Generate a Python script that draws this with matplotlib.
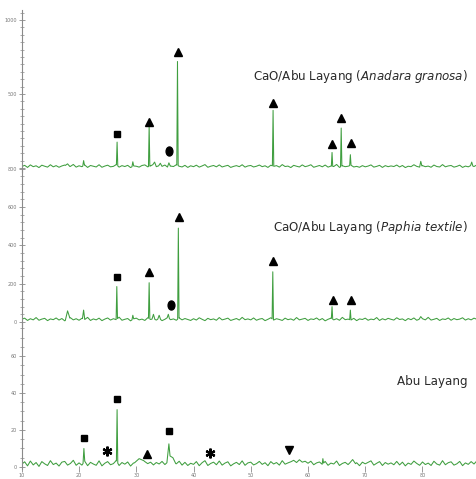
import numpy as np
import matplotlib
matplotlib.use("Agg")
import matplotlib.pyplot as plt
from matplotlib.markers import MarkerStyle
from matplotlib.transforms import Affine2D

# 2-theta grid for the background readings (0.5 deg step)
two_theta = np.arange(10, 90, 0.5)

# background noise (counts)
bg_anadara = [
    10, 18, 4, 21, 9, 15, 3, 19, 12, 6, 22, 8, 16, 5, 14, 20, 7, 11, 24, 6,
    15, 9, 20, 4, 17, 12, 7, 22, 5, 13, 19, 8, 11, 23, 6, 16, 10, 18, 3, 14,
    12, 6, 17, 21, 8, 14, 25, 9, 16, 11, 20, 5, 13, 10, 22, 12, 7, 18, 4, 15,
    9, 19, 6, 14, 23, 5, 12, 17, 8, 21, 7, 13, 18, 4, 11, 16, 9, 22, 6, 14,
    17, 7, 12, 20, 9, 15, 4, 19, 11, 16, 6, 23, 10, 13, 3, 18, 12, 7, 21, 9,
    14, 22, 5, 11, 17, 8, 20, 6, 13, 10, 24, 4, 15, 9, 12, 19, 7, 11, 5, 16,
    8, 13, 21, 6, 11, 18, 4, 16, 9, 14, 10, 20, 7, 17, 3, 12, 9, 22, 11, 6,
    16, 9, 13, 5, 20, 10, 7, 23, 8, 14, 17, 6, 11, 19, 4, 13, 8, 18, 10, 21]
bg_paphia = [
    14, 20, 8, 17, 11, 23, 9, 15, 19, 7, 16, 12, 21, 10, 18, 6, 14, 22, 11, 17,
    9, 19, 13, 24, 8, 16, 11, 20, 7, 15, 21, 10, 17, 12, 25, 9, 14, 18, 6, 16,
    20, 11, 15, 8, 22, 13, 17, 10, 19, 7, 14, 24, 12, 16, 9, 21, 11, 18, 13, 8,
    17, 10, 22, 14, 7, 19, 12, 16, 9, 23, 11, 15, 20, 8, 13, 18, 10, 24, 12, 16,
    11, 21, 9, 15, 18, 7, 14, 22, 10, 17, 13, 8, 20, 12, 16, 9, 23, 11, 15, 19,
    8, 16, 13, 21, 10, 18, 6, 14, 20, 11, 17, 9, 24, 12, 15, 10, 19, 7, 16, 13,
    20, 9, 15, 12, 23, 8, 17, 11, 19, 14, 10, 22, 13, 16, 7, 18, 12, 21, 9, 15,
    17, 11, 24, 10, 14, 19, 8, 16, 13, 21, 9, 18, 12, 15, 22, 10, 17, 11, 20, 14]
bg_abu = [
    1.5, 2.8, 0.6, 3.2, 1.1, 2.4, 0.3, 2.9, 1.7, 0.8, 3.4, 1.3, 2.1, 0.5, 2.6, 3.0, 1.0, 1.9, 3.6, 0.9,
    2.2, 1.0, 3.1, 0.7, 2.5, 1.6, 0.9, 3.3, 0.6, 2.0, 2.9, 1.2, 1.8, 3.5, 0.8, 2.4, 1.5, 2.7, 0.5, 2.1,
    2.5, 3.8, 4.2, 2.9, 1.8, 2.6, 1.1, 2.4, 1.6, 3.0, 1.3, 2.7, 0.9, 2.2, 1.7, 3.1, 1.0, 2.5, 0.8, 2.0,
    1.4, 2.9, 0.7, 2.3, 3.4, 0.8, 1.9, 2.6, 1.2, 3.2, 1.0, 2.1, 2.8, 0.6, 1.7, 2.5, 1.3, 3.3, 0.9, 2.2,
    2.6, 1.1, 1.8, 3.0, 1.4, 2.3, 0.7, 2.9, 1.6, 2.4, 1.0, 3.4, 1.5, 2.2, 2.8, 3.6, 2.4, 3.9, 2.6, 3.1,
    2.0, 3.1, 1.2, 2.2, 2.7, 1.4, 3.0, 0.9, 2.1, 1.6, 3.2, 0.8, 1.9, 2.5, 1.3, 2.8, 1.0, 2.3, 0.7, 2.6,
    1.7, 2.5, 3.3, 1.0, 2.0, 2.9, 0.8, 2.4, 1.5, 2.2, 1.2, 3.0, 1.1, 2.6, 0.6, 2.1, 1.4, 3.2, 1.9, 0.9,
    2.7, 1.3, 2.1, 0.8, 3.1, 1.6, 1.0, 3.4, 1.2, 2.3, 2.8, 1.0, 1.7, 3.0, 0.7, 2.2, 1.4, 2.9, 1.6, 3.3]

# peaks: position (2theta), top intensity, half width at base (deg)
pk_anadara_pos = [18.0, 20.8, 26.65, 29.4, 32.25, 33.2, 34.2, 35.7, 37.2, 53.9, 64.2, 65.8, 67.4, 79.7, 88.6]
pk_anadara_h = [28, 50, 175, 42, 285, 40, 32, 35, 720, 390, 105, 270, 90, 45, 40]
pk_anadara_w = [0.4, 0.15, 0.12, 0.15, 0.12, 0.3, 0.3, 0.25, 0.12, 0.12, 0.12, 0.12, 0.12, 0.2, 0.2]

pk_paphia_pos = [18.0, 20.8, 26.6, 29.4, 32.25, 33.0, 34.0, 35.6, 37.35, 53.85, 64.2, 67.4, 79.7]
pk_paphia_h = [58, 62, 185, 35, 205, 40, 35, 40, 490, 262, 80, 62, 28]
pk_paphia_w = [0.4, 0.2, 0.12, 0.15, 0.12, 0.25, 0.25, 0.2, 0.12, 0.12, 0.12, 0.12, 0.3]

pk_abu_pos = [20.85, 26.65, 30.5, 35.7, 36.4, 62.6, 67.8]
pk_abu_h = [10, 31, 4.5, 12.5, 5, 4.5, 4]
pk_abu_w = [0.15, 0.12, 0.8, 0.35, 0.5, 0.12, 0.5]

# phase markers: symbol, 2theta, height
mk_anadara = [("s", 26.7, 230), ("^", 32.2, 313), ("o", 35.8, 117), ("^", 37.3, 784),
              ("^", 53.9, 441), ("^", 64.2, 162), ("^", 65.8, 340), ("^", 67.6, 167)]
mk_paphia = [("s", 26.6, 235), ("^", 32.2, 260), ("o", 36.1, 89), ("^", 37.4, 548),
             ("^", 53.9, 320), ("^", 64.3, 115), ("^", 67.6, 115)]
mk_abu = [("s", 20.9, 15.5), ("*", 24.9, 8.8), ("s", 26.7, 36.7), ("^", 31.85, 7),
          ("s", 35.8, 19.6), ("*", 42.85, 7.7), ("v", 56.6, 9.2)]

labels = ["CaO/Abu Layang ($\\it{Anadara\\ granosa}$)",
          "CaO/Abu Layang ($\\it{Paphia\\ textile}$)",
          "Abu Layang"]


def build_trace(bg, pos, h, w):
    x = np.array(two_theta, dtype=float)
    y = np.array(bg, dtype=float)
    for p, hh, ww in zip(pos, h, w):
        keep = (x < p - ww) | (x > p + ww)
        yl = np.interp(p - ww, x, y)
        yr = np.interp(p + ww, x, y)
        x = np.concatenate([x[keep], [p - ww, p, p + ww]])
        y = np.concatenate([y[keep], [yl, hh, yr]])
        order = np.argsort(x)
        x, y = x[order], y[order]
    return x, y


W, H = 476, 479
fig = plt.figure(figsize=(W / 100, H / 100), dpi=100)

green = "#3f9e3f"
grey = "#8a8a8a"
x_lo, x_hi = 9.95, 89.35

# (bottom px, top px, ymin, ymax, major step, minor step)
panels = [
    (172, 10, -27, 1068, 500, 50),
    (326, 168, -21, 804, 200, 40),
    (469, 322, -1.1, 78.4, 20, 5),
]
traces = [
    build_trace(bg_anadara, pk_anadara_pos, pk_anadara_h, pk_anadara_w),
    build_trace(bg_paphia, pk_paphia_pos, pk_paphia_h, pk_paphia_w),
    build_trace(bg_abu, pk_abu_pos, pk_abu_h, pk_abu_w),
]
markers = [mk_anadara, mk_paphia, mk_abu]
label_y = [76, 228, 381]

left = 21.5 / W
for i, (pb, pt, y0, y1, major, minor) in enumerate(panels):
    ax = fig.add_axes([left, 1 - pb / H, 1 - left, (pb - pt) / H])
    ax.patch.set_alpha(0)
    x, y = traces[i]
    ax.plot(x, y, color=green, lw=0.75)
    ax.set_xlim(x_lo, x_hi)
    ax.set_ylim(y0, y1)
    for s in ["top", "right", "bottom"]:
        ax.spines[s].set_visible(False)
    ax.spines["left"].set_color(grey)
    ax.spines["left"].set_linewidth(0.8)
    ax.set_yticks(np.arange(0, y1, major))
    ax.set_yticks(np.arange(0, y1, minor), minor=True)
    ax.tick_params(axis="y", which="major", direction="inout", length=5, width=0.6,
                   color=grey, labelsize=3.5, labelcolor="#777777", pad=1)
    ax.tick_params(axis="y", which="minor", direction="inout", length=3, width=0.5, color=grey)
    if i == 0:
        ax.set_yticklabels(["", "500", "1000"])
    if i == 2:
        ax.set_xticks(np.arange(10, 90, 10))
        ax.tick_params(axis="x", direction="inout", length=5, width=0.6, color=grey,
                       labelsize=3.5, labelcolor="#777777", pad=0.5)
    else:
        ax.set_xticks([])

    for sym, px, py in markers[i]:
        if sym == "o":
            m = MarkerStyle("o", transform=Affine2D().scale(0.75, 1.0))
            ax.plot(px, py, marker=m, color="black", ms=6.5, ls="none")
        elif sym == "*":
            ax.plot(px, py, marker=(6, 2, 0), color="black", ms=7, mew=1.6, ls="none")
        elif sym == "s":
            ax.plot(px, py, marker="s", color="black", ms=4.6, ls="none")
        else:
            ax.plot(px, py, marker=sym, color="black", ms=5.3, ls="none")

    fig.text(468 / W, 1 - label_y[i] / H, labels[i], ha="right", va="center",
             fontsize=8.6, color="#2a2a2a")

fig.savefig("out.png", dpi=100)
